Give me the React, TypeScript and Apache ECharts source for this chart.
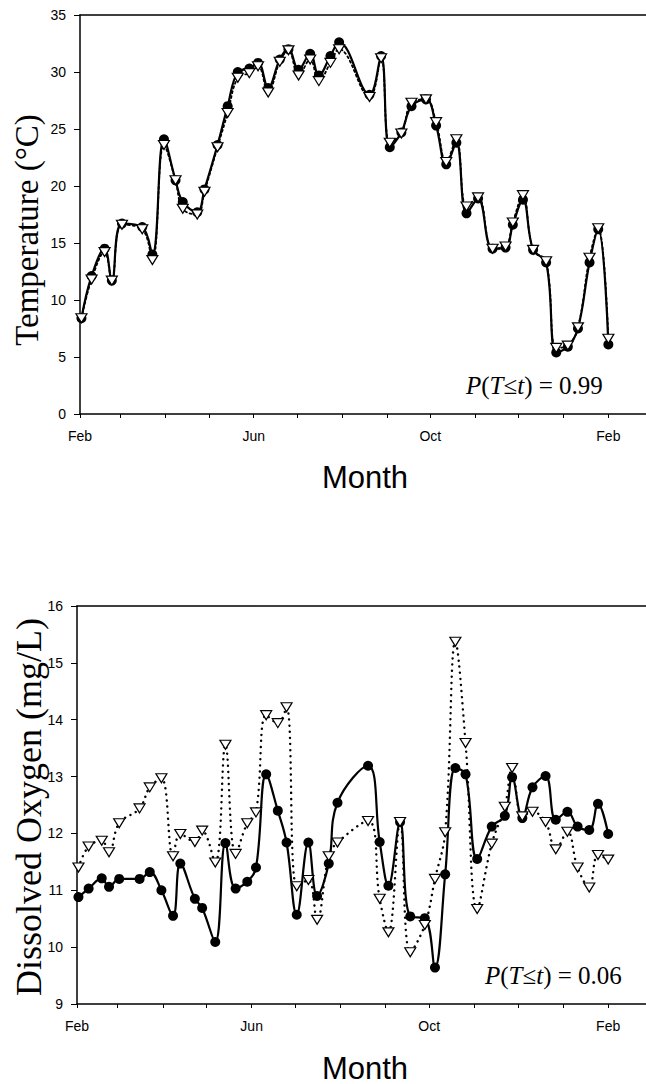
import React, { useEffect, useRef } from "react";
import * as echarts from "echarts";

// Sampling dates, as days after 1 February
const sampleDays = [1, 8, 17, 22, 29, 43, 50, 58, 66, 71, 81, 86, 95, 102, 109, 117, 123, 130, 138, 144, 151, 159, 165, 173, 179, 200, 208, 214, 222, 229, 239, 246, 253, 260, 267, 275, 285, 294, 299, 306, 313, 322, 329, 337, 344, 352, 358, 365];

// Temperature (°C)
const tempObserved = [8.4, 12.1, 14.5, 11.7, 16.7, 16.4, 14.0, 24.1, 20.5, 18.6, 17.7, 19.7, 23.6, 27.0, 30.0, 30.3, 30.8, 28.6, 31.1, 32.0, 30.2, 31.6, 29.7, 31.4, 32.6, 28.0, 31.4, 23.4, 24.7, 27.0, 27.6, 25.3, 21.9, 23.8, 17.6, 18.9, 14.5, 14.6, 16.6, 18.8, 14.4, 13.3, 5.4, 5.9, 7.5, 13.3, 16.2, 6.1];
const tempPredicted = [8.4, 11.8, 14.2, 11.7, 16.6, 16.2, 13.5, 23.6, 20.5, 18.0, 17.5, 19.5, 23.4, 26.4, 29.5, 29.9, 30.5, 28.2, 30.9, 31.9, 29.7, 31.1, 29.2, 30.8, 32.0, 27.8, 31.2, 23.8, 24.6, 27.3, 27.6, 25.6, 22.1, 24.1, 18.2, 19.0, 14.5, 14.7, 16.8, 19.2, 14.4, 13.4, 5.8, 6.0, 7.6, 13.7, 16.3, 6.6];

// Dissolved oxygen (mg/L)
const doObserved = [10.88, 11.03, 11.21, 11.06, 11.2, 11.2, 11.32, 11.0, 10.55, 11.47, 10.85, 10.69, 10.09, 11.83, 11.03, 11.15, 11.4, 13.04, 12.4, 11.84, 10.57, 11.84, 10.9, 11.47, 12.54, 13.19, 11.85, 11.08, 12.2, 10.54, 10.51, 9.64, 11.28, 13.15, 13.04, 11.55, 12.12, 12.31, 12.99, 12.27, 12.81, 13.01, 12.24, 12.38, 12.12, 12.06, 12.52, 11.99];
const doPredicted = [11.4, 11.77, 11.87, 11.67, 12.18, 12.44, 12.81, 12.97, 11.6, 11.99, 11.85, 12.05, 11.49, 13.56, 11.64, 12.18, 12.37, 14.08, 13.94, 14.22, 11.07, 11.18, 10.48, 11.6, 11.84, 12.22, 10.85, 10.26, 12.2, 9.91, 10.39, 11.2, 12.02, 15.37, 13.59, 10.67, 11.82, 12.47, 13.15, 12.3, 12.38, 12.2, 11.72, 12.03, 11.4, 11.05, 11.62, 11.54];

// Axis ticks
const monthTickDays = [0, 28, 59, 89, 120, 150, 181, 212, 242, 273, 303, 334, 365];
const monthLabelDays = [0, 120, 242, 365];
const monthLabelNames = ["Feb", "Jun", "Oct", "Feb"];
const dayMax = 391;

const zip = (xs: number[], ys: number[]) => xs.map((x, i) => [x, ys[i]]);

const SANS = "'Liberation Sans', Arial, sans-serif";
const SERIF = "'Liberation Serif', 'Times New Roman', serif";

function makeXAxis(gridIndex: number) {
  return [
    {
      type: "value",
      gridIndex,
      min: 0,
      max: dayMax,
      position: "bottom",
      splitLine: { show: false },
      axisLine: { show: true, onZero: false, lineStyle: { color: "#000", width: 1.5 } },
      axisTick: { show: true, inside: false, length: 4, customValues: monthTickDays, lineStyle: { color: "#000", width: 1 } },
      axisLabel: {
        show: true,
        customValues: monthLabelDays,
        margin: 15,
        color: "#000",
        fontSize: 14,
        fontFamily: SANS,
        formatter: (v: number) => {
          const i = monthLabelDays.indexOf(Math.round(v));
          return i >= 0 ? monthLabelNames[i] : "";
        },
      },
    },
    {
      type: "value",
      gridIndex,
      min: 0,
      max: dayMax,
      position: "top",
      splitLine: { show: false },
      axisLine: { show: true, onZero: false, lineStyle: { color: "#000", width: 1.5 } },
      axisTick: { show: false },
      axisLabel: { show: false },
    },
  ];
}

function makeYAxis(gridIndex: number, min: number, max: number, interval: number) {
  return {
    type: "value",
    gridIndex,
    min,
    max,
    interval,
    splitLine: { show: false },
    axisLine: { show: true, onZero: false, lineStyle: { color: "#000", width: 1.5 } },
    axisTick: { show: true, inside: false, length: 6, lineStyle: { color: "#000", width: 1 } },
    axisLabel: { color: "#000", fontSize: 14, fontFamily: SANS, margin: 14 },
  };
}

const circleSeries = (xAxisIndex: number, yAxisIndex: number, data: number[][]) => ({
  type: "line",
  xAxisIndex,
  yAxisIndex,
  data,
  smooth: 0.4,
  symbol: "circle",
  symbolSize: 10,
  itemStyle: { color: "#000" },
  lineStyle: { color: "#000", width: 2.2 },
  z: 2,
});

const triangleSeries = (xAxisIndex: number, yAxisIndex: number, data: number[][], dash: any, width: number) => ({
  type: "line",
  xAxisIndex,
  yAxisIndex,
  data,
  smooth: 0.4,
  symbol: "triangle",
  symbolRotate: 180,
  symbolSize: [11, 9],
  itemStyle: { color: "#fff", borderColor: "#000", borderWidth: 1.2 },
  lineStyle: { color: "#000", width, type: dash, cap: "round" },
  z: 3,
});

const richP = (value: string) => ({
  text: `{i|P}{n|(}{i|T}{n|≤}{i|t}{n|) = ${value}}`,
  rich: {
    i: { fontStyle: "italic", fontFamily: SERIF, fontSize: 25, fill: "#000" },
    n: { fontFamily: SERIF, fontSize: 25, fill: "#000" },
  },
  fill: "#000",
});

export default function App() {
  const ref = useRef<HTMLDivElement>(null);
  useEffect(() => {
    if (!ref.current) return;
    const chart = echarts.init(ref.current, undefined, { renderer: "svg" });
    chart.setOption({
      animation: false,
      backgroundColor: "#fff",
      grid: [
        { left: 80, top: 15, width: 566, height: 399, containLabel: false },
        { left: 77, top: 606, width: 569, height: 398, containLabel: false },
      ],
      xAxis: [...makeXAxis(0), ...makeXAxis(1)],
      yAxis: [makeYAxis(0, 0, 35, 5), makeYAxis(1, 9, 16, 1)],
      series: [
        circleSeries(0, 0, zip(sampleDays, tempObserved)),
        triangleSeries(0, 0, zip(sampleDays, tempPredicted), [2, 3], 1.8),
        circleSeries(2, 1, zip(sampleDays, doObserved)),
        triangleSeries(2, 1, zip(sampleDays, doPredicted), [0.1, 6], 2.4),
      ],
      graphic: [
        {
          type: "text",
          x: 27,
          y: 230,
          rotation: Math.PI / 2,
          style: { text: "Temperature (°C)", fontFamily: SERIF, fontSize: 33, fill: "#000", align: "center", verticalAlign: "middle" },
        },
        {
          type: "text",
          x: 29,
          y: 807,
          rotation: Math.PI / 2,
          style: { text: "Dissolved Oxygen (mg/L)", fontFamily: SERIF, fontSize: 36, fill: "#000", align: "center", verticalAlign: "middle" },
        },
        {
          type: "text",
          x: 365,
          y: 477,
          style: { text: "Month", fontFamily: SANS, fontSize: 31, fill: "#000", align: "center", verticalAlign: "middle" },
        },
        {
          type: "text",
          x: 365,
          y: 1068,
          style: { text: "Month", fontFamily: SANS, fontSize: 31, fill: "#000", align: "center", verticalAlign: "middle" },
        },
        {
          type: "text",
          x: 466,
          y: 385,
          style: { ...richP("0.99"), align: "left", verticalAlign: "middle" },
        },
        {
          type: "text",
          x: 485,
          y: 975,
          style: { ...richP("0.06"), align: "left", verticalAlign: "middle" },
        },
      ],
    });
    return () => chart.dispose();
  }, []);
  return (
    <div
      ref={ref}
      style={{ position: "absolute", left: 0, top: 0, width: 646, height: 1084, background: "#fff" }}
    />
  );
}
